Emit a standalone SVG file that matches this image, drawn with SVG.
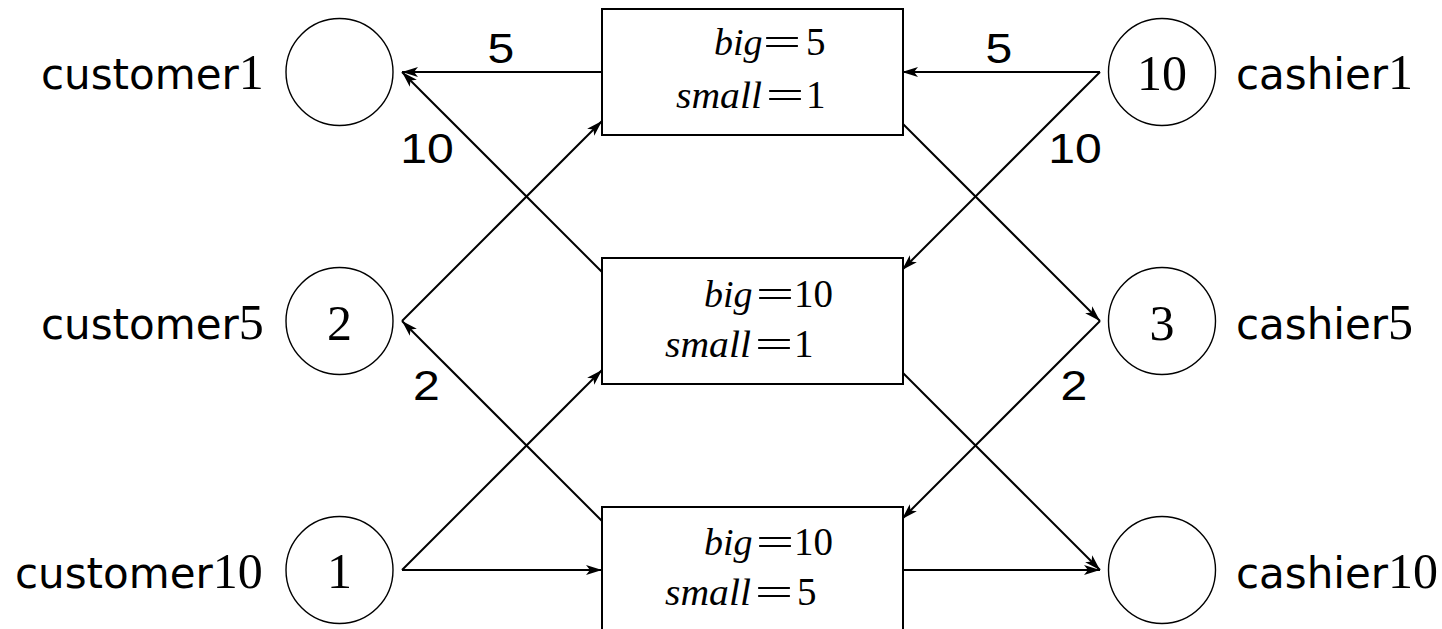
<svg xmlns="http://www.w3.org/2000/svg" width="1442" height="629" viewBox="0 0 1442 629">
<style>
.circ{fill:none;stroke:#000;stroke-width:1.4}
.box{fill:#fff;stroke:#000;stroke-width:2}
.edge{fill:none;stroke:#000;stroke-width:2}
.num{font-family:"Liberation Serif",serif;font-size:50px;fill:#000;text-anchor:middle}
.mi{font-family:"Liberation Serif",serif;font-size:38px;font-style:italic;fill:#000}
.mr{font-family:"Liberation Serif",serif;font-size:39px;fill:#000}
.eq{font-family:"Liberation Serif",serif;font-size:39px;fill:#000;text-anchor:middle}
.el{font-family:"Liberation Sans",Arial,sans-serif;font-size:43px;fill:#000;text-anchor:middle}
</style>
<defs>
<marker id="ah" markerUnits="userSpaceOnUse" markerWidth="20" markerHeight="12" viewBox="-17 -6 18 12" refX="0" refY="0" orient="auto">
<path d="M0,0 L-16,-5 L-12,0 L-16,5 Z" fill="#000"/>
</marker>
</defs>

<g id="connectors">
<line class="edge" x1="602" y1="72" x2="402" y2="72" marker-end="url(#ah)"/>
<line class="edge" x1="602" y1="272" x2="402" y2="72" marker-end="url(#ah)"/>
<line class="edge" x1="402" y1="321" x2="602" y2="121" marker-end="url(#ah)"/>
<line class="edge" x1="602" y1="521" x2="402" y2="321" marker-end="url(#ah)"/>
<line class="edge" x1="402" y1="570" x2="602" y2="370" marker-end="url(#ah)"/>
<line class="edge" x1="402" y1="570" x2="602" y2="570" marker-end="url(#ah)"/>
<line class="edge" x1="1100" y1="72" x2="902" y2="72" marker-end="url(#ah)"/>
<line class="edge" x1="1100" y1="72" x2="902" y2="270" marker-end="url(#ah)"/>
<line class="edge" x1="902" y1="123" x2="1100" y2="321" marker-end="url(#ah)"/>
<line class="edge" x1="1100" y1="321" x2="902" y2="519" marker-end="url(#ah)"/>
<line class="edge" x1="902" y1="372" x2="1100" y2="570" marker-end="url(#ah)"/>
<line class="edge" x1="902" y1="570" x2="1100" y2="570" marker-end="url(#ah)"/>
<text class="el" transform="translate(501,63) scale(1.12,1)">5</text>
<text class="el" transform="translate(427,163) scale(1.12,1)">10</text>
<text class="el" transform="translate(426.5,400) scale(1.12,1)">2</text>
<text class="el" transform="translate(999,63) scale(1.12,1)">5</text>
<text class="el" transform="translate(1075,163) scale(1.12,1)">10</text>
<text class="el" transform="translate(1074,400) scale(1.12,1)">2</text>
</g>

<g id="customer1">
<circle class="circ" cx="339.5" cy="72" r="53.5"/>
<text x="41" y="89" fill="#000"><tspan font-family="DejaVu Sans, sans-serif" font-size="42">customer</tspan><tspan font-family="Liberation Serif, serif" font-size="50">1</tspan></text>
</g>
<g id="customer5">
<circle class="circ" cx="339.5" cy="321" r="53.5"/>
<text class="num" x="339.5" y="340">2</text>
<text x="41" y="339" fill="#000"><tspan font-family="DejaVu Sans, sans-serif" font-size="42">customer</tspan><tspan font-family="Liberation Serif, serif" font-size="50">5</tspan></text>
</g>
<g id="customer10">
<circle class="circ" cx="339.5" cy="570" r="53.5"/>
<text class="num" x="339.5" y="588">1</text>
<text x="15" y="588" fill="#000"><tspan font-family="DejaVu Sans, sans-serif" font-size="42">customer</tspan><tspan font-family="Liberation Serif, serif" font-size="50">10</tspan></text>
</g>

<g id="cashier1">
<circle class="circ" cx="1162" cy="72" r="53.5"/>
<text class="num" x="1162" y="90">10</text>
<text x="1236" y="89" fill="#000"><tspan font-family="DejaVu Sans, sans-serif" font-size="42">cashier</tspan><tspan font-family="Liberation Serif, serif" font-size="50">1</tspan></text>
</g>
<g id="cashier5">
<circle class="circ" cx="1162" cy="321" r="53.5"/>
<text class="num" x="1162" y="340">3</text>
<text x="1236" y="339" fill="#000"><tspan font-family="DejaVu Sans, sans-serif" font-size="42">cashier</tspan><tspan font-family="Liberation Serif, serif" font-size="50">5</tspan></text>
</g>
<g id="cashier10">
<circle class="circ" cx="1162" cy="570" r="53.5"/>
<text x="1236" y="588" fill="#000"><tspan font-family="DejaVu Sans, sans-serif" font-size="42">cashier</tspan><tspan font-family="Liberation Serif, serif" font-size="50">10</tspan></text>
</g>

<g id="box1">
<rect class="box" x="602" y="9" width="301" height="126"/>
<text class="mi" x="714" y="55">big</text>
<text class="eq" transform="translate(782,55) scale(1.75,1)">=</text>
<text class="mr" x="806" y="55">5</text>
<text class="mi" x="676" y="108" textLength="86" lengthAdjust="spacingAndGlyphs">small</text>
<text class="eq" transform="translate(785,108) scale(1.75,1)">=</text>
<text class="mr" x="806" y="108">1</text>
</g>
<g id="box2">
<rect class="box" x="602" y="258" width="301" height="126"/>
<text class="mi" x="704" y="307">big</text>
<text class="eq" transform="translate(775,307) scale(1.75,1)">=</text>
<text class="mr" x="794" y="307">10</text>
<text class="mi" x="665" y="357" textLength="86" lengthAdjust="spacingAndGlyphs">small</text>
<text class="eq" transform="translate(774,357) scale(1.75,1)">=</text>
<text class="mr" x="794" y="357">1</text>
</g>
<g id="box3">
<rect class="box" x="602" y="507" width="301" height="126"/>
<text class="mi" x="704" y="555">big</text>
<text class="eq" transform="translate(775,555) scale(1.75,1)">=</text>
<text class="mr" x="794" y="555">10</text>
<text class="mi" x="665" y="605" textLength="86" lengthAdjust="spacingAndGlyphs">small</text>
<text class="eq" transform="translate(774,605) scale(1.75,1)">=</text>
<text class="mr" x="797" y="605">5</text>
</g>
</svg>
